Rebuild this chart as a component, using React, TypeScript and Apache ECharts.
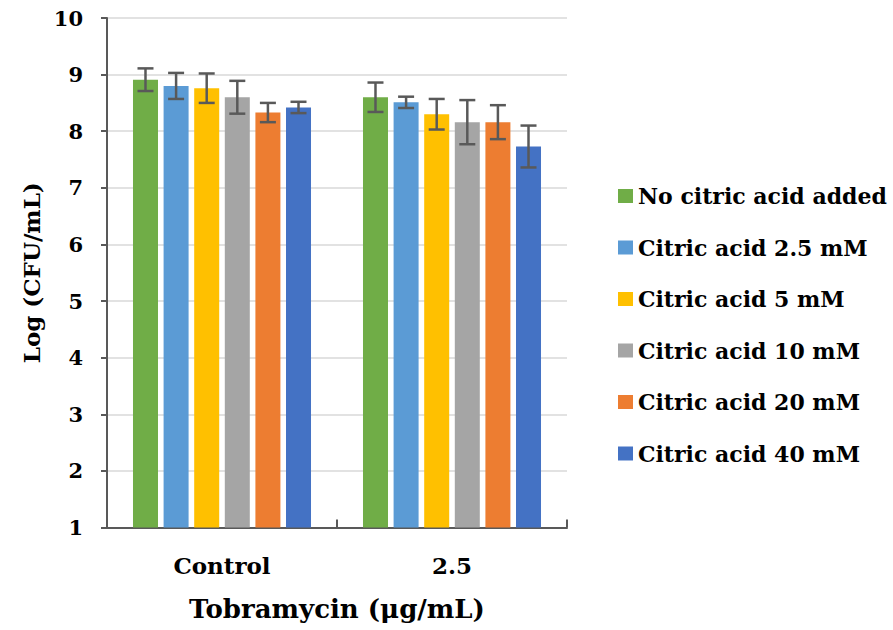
import React, { useEffect, useRef } from "react";
import * as echarts from "echarts";

const categories = ["Control", "2.5"];
const seriesNames = [
  "No citric acid added",
  "Citric acid 2.5 mM",
  "Citric acid 5 mM",
  "Citric acid 10 mM",
  "Citric acid 20 mM",
  "Citric acid 40 mM",
];
const colors = ["#70AD47", "#5B9BD5", "#FFC000", "#A5A5A5", "#ED7D31", "#4472C4"];
const means = [
  [8.91, 8.6],
  [8.8, 8.51],
  [8.76, 8.3],
  [8.6, 8.16],
  [8.33, 8.16],
  [8.42, 7.73],
];
const errors = [
  [0.2, 0.26],
  [0.23, 0.1],
  [0.26, 0.27],
  [0.29, 0.39],
  [0.17, 0.3],
  [0.1, 0.37],
];

const FONT = "DejaVu Serif";
const CAT_GAP = 0.226;
const BAR_GAP = 0.224;

export default function App() {
  const ref = useRef<HTMLDivElement>(null);
  useEffect(() => {
    if (!ref.current) return;
    const chart = echarts.init(ref.current, null, { renderer: "svg" });
    const n = seriesNames.length;
    const barSeries = seriesNames.map((name, i) => ({
      name,
      type: "bar",
      data: means[i],
      itemStyle: { color: colors[i] },
      barGap: BAR_GAP * 100 + "%",
      barCategoryGap: CAT_GAP * 100 + "%",
      z: 2,
    }));
    const errData: any[] = [];
    seriesNames.forEach((_, i) => {
      categories.forEach((_, j) => {
        errData.push([j, means[i][j] - errors[i][j], means[i][j] + errors[i][j], i]);
      });
    });
    const errSeries = {
      type: "custom",
      name: "err",
      z: 5,
      data: errData,
      renderItem: (params: any, api: any) => {
        const j = api.value(0);
        const lo = api.value(1);
        const hi = api.value(2);
        const i = api.value(3);
        const catW = api.size([1, 0])[0];
        const area = catW * (1 - CAT_GAP);
        const w = area / (n + (n - 1) * BAR_GAP);
        const pLo = api.coord([j, lo]);
        const pHi = api.coord([j, hi]);
        const x = pLo[0] - area / 2 + w / 2 + i * w * (1 + BAR_GAP);
        const cap = 8;
        const style = { stroke: "#595959", lineWidth: 2.5, fill: "none" };
        return {
          type: "group",
          children: [
            { type: "line", shape: { x1: x, y1: pLo[1], x2: x, y2: pHi[1] }, style },
            { type: "line", shape: { x1: x - cap, y1: pLo[1], x2: x + cap, y2: pLo[1] }, style },
            { type: "line", shape: { x1: x - cap, y1: pHi[1], x2: x + cap, y2: pHi[1] }, style },
          ],
        };
      },
    };
    chart.setOption({
      animation: false,
      backgroundColor: "#ffffff",
      textStyle: { fontFamily: FONT },
      grid: { left: 107, top: 18, right: 326, bottom: 102.5 },
      legend: {
        data: seriesNames,
        orient: "vertical",
        left: 613,
        top: 180,
        itemWidth: 15,
        itemHeight: 14,
        itemGap: 29.5,
        icon: "rect",
        textStyle: { fontFamily: FONT, fontWeight: "bold", fontSize: 22, color: "#000" },
      },
      xAxis: {
        type: "category",
        data: categories,
        axisLine: { lineStyle: { color: "#595959", width: 2 } },
        axisTick: { show: true, inside: true, length: 8, lineStyle: { color: "#595959", width: 2 } },
        axisLabel: { fontFamily: FONT, fontWeight: "bold", fontSize: 23, color: "#000", margin: 26 },
        name: "Tobramycin (μg/mL)",
        nameLocation: "middle",
        nameGap: 68,
        nameTextStyle: { fontFamily: FONT, fontWeight: "bold", fontSize: 26, color: "#000" },
      },
      yAxis: {
        type: "value",
        min: 1,
        max: 10,
        interval: 1,
        axisLine: { show: true, lineStyle: { color: "#595959", width: 2 } },
        axisTick: { show: true, length: 6, lineStyle: { color: "#595959", width: 2 } },
        axisLabel: { fontFamily: FONT, fontWeight: "bold", fontSize: 21, color: "#000", margin: 24 },
        splitLine: { lineStyle: { color: "#d9d9d9", width: 1.5 } },
        name: "Log (CFU/mL)",
        nameLocation: "middle",
        nameRotate: 90,
        nameGap: 62,
        nameTextStyle: { fontFamily: FONT, fontWeight: "bold", fontSize: 23, color: "#000" },
      },
      series: [...barSeries, errSeries],
    });
    return () => chart.dispose();
  }, []);
  return (
    <div
      ref={ref}
      style={{ position: "fixed", left: 0, top: 0, width: 893, height: 630 }}
    />
  );
}
